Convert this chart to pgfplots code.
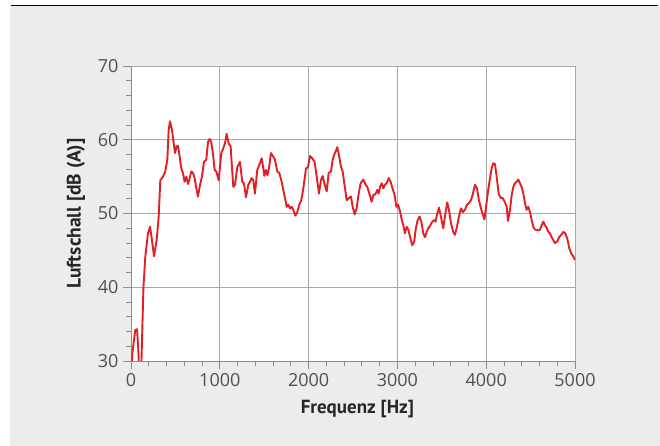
\documentclass[border=0pt]{standalone}
\usepackage{pgfplots}
\pgfplotsset{compat=1.18}
\usepackage{fontspec}
\setmainfont{Open Sans}
\newfontfamily\labelfont{PT Sans}
\definecolor{bg}{HTML}{ECECEC}
\definecolor{gridc}{HTML}{A8A8A8}
\definecolor{axc}{HTML}{8C8C8C}
\definecolor{tickc}{HTML}{505050}
\definecolor{curve}{HTML}{E31E24}
\begin{document}
\begin{tikzpicture}[x=1pt,y=1pt]
\fill[white] (0,0) rectangle (660,446);
\fill[bg] (10,0) rectangle (660,439.5);
\draw[black,line width=1.5pt] (11,440.5) -- (658,440.5);
\begin{axis}[
  at={(131pt,85pt)}, anchor=south west,
  scale only axis, width=444pt, height=295pt,
  xmin=0, xmax=5000, ymin=30, ymax=70,
  xtick={0,1000,...,5000}, ytick={30,40,...,70},
  minor x tick num=4, minor y tick num=4,
  scaled x ticks=false,
  /pgf/number format/1000 sep={},
  /pgf/number format/assume math mode=true,
  tick align=outside,
  major tick length=8pt, minor tick length=5pt,
  tick style={axc, line width=0.8pt},
  axis line style={axc, line width=0.8pt},
  grid=major,
  major grid style={gridc, line width=0.9pt},
  axis x line*=bottom, axis y line*=left,
  axis background/.style={fill=white},
  ticklabel style={font=\fontsize{18}{20}\selectfont, text=tickc},
  xticklabel style={yshift=-1pt},
  yticklabel style={xshift=-1pt},
  xlabel={Frequenz [Hz]},
  ylabel={Luftschall [dB (A)]},
  every axis x label/.style={at={(axis description cs:0.51,-0.163)}, anchor=center, font=\labelfont\bfseries\fontsize{19}{21}\selectfont, text=black!85},
  every axis y label/.style={at={(axis description cs:-0.124,0.5)}, rotate=90, anchor=center, font=\labelfont\bfseries\fontsize{19.5}{21}\selectfont, text=black!85},
]
\draw[gridc, line width=0.9pt] (axis cs:0,70) -- (axis cs:5000,70) -- (axis cs:5000,30);
\addplot[curve, line width=1.9pt, line join=round, mark=none] coordinates {
(0,27) (15,31) (48,34.2) (68,34.3) (80,32) (100,27) (118,30) (140,40) (161,44.1)
(191,47.3) (214,48.2) (236,46.4) (259,44.2) (289,46.4) (312,49.6) (330,54.5) (360,55.0)
(386,55.7) (409,57.3) (424,61.3) (439,62.5) (462,61.3) (476,60.0) (495,58.2) (514,59.1)
(529,59.2) (548,57.7) (567,56.1) (585,55.5) (604,54.3) (623,55.0) (642,54.0) (661,54.8)
(679,55.7) (698,55.5) (717,54.8) (736,53.4) (754,52.3) (773,53.6) (799,55.0) (822,57.0)
(848,57.3) (867,59.7) (886,60.1) (904,59.7) (927,57.7) (942,55.9) (961,55.7) (988,54.5)
(1017,58.2) (1032,58.6) (1058,59.5) (1077,60.8) (1100,59.5) (1122,59.1) (1137,56.3)
(1152,53.6) (1171,53.9) (1197,56.3) (1227,57.0) (1253,54.3) (1272,54.1) (1295,52.2)
(1321,53.9) (1340,54.3) (1359,54.8) (1377,54.5) (1396,52.7) (1422,55.9) (1445,56.6)
(1472,57.5) (1490,56.1) (1501,55.1) (1520,55.9) (1535,55.2) (1554,56.1) (1576,58.2)
(1602,57.7) (1621,57.3) (1647,55.7) (1670,55.5) (1697,54.3) (1715,53.2) (1734,52.1)
(1753,50.9) (1771,51.2) (1790,50.7) (1809,50.9) (1828,50.5) (1850,49.7) (1873,50.2)
(1895,51.2) (1918,51.8) (1940,53.4) (1971,56.1) (1993,56.3) (2016,57.8) (2040,57.5)
(2068,57.0) (2091,55.0) (2117,52.7) (2139,54.5) (2159,55.1) (2177,54.1) (2204,53.0)
(2226,55.5) (2252,55.7) (2271,57.3) (2286,57.9) (2308,58.5) (2323,59.0) (2345,57.7)
(2365,56.3) (2384,55.7) (2402,54.1) (2429,51.8) (2455,52.1) (2477,52.3) (2496,50.9)
(2519,49.9) (2541,50.7) (2564,52.7) (2586,54.1) (2616,54.6) (2639,54.0) (2661,53.6)
(2684,52.7) (2710,51.6) (2729,52.5) (2751,52.6) (2774,53.2) (2789,52.7) (2804,53.6)
(2823,54.1) (2841,53.4) (2860,53.9) (2879,54.1) (2902,54.8) (2924,54.3) (2946,53.4)
(2969,52.5) (2988,50.9) (3008,51.2) (3029,50.3) (3048,49.2) (3066,48.4) (3085,47.3)
(3104,48.2) (3123,47.8) (3141,46.9) (3167,45.7) (3190,46.2) (3205,47.8) (3228,49.1)
(3250,49.6) (3273,48.7) (3291,47.3) (3310,46.8) (3329,47.5) (3348,48.0) (3370,48.4)
(3393,48.9) (3415,49.1) (3430,48.9) (3445,49.8) (3468,50.8) (3490,49.6) (3516,48.0)
(3535,49.6) (3561,51.5) (3581,50.5) (3603,48.7) (3629,47.5) (3648,47.1) (3671,48.2)
(3693,49.6) (3716,50.7) (3738,50.2) (3761,50.5) (3783,51.2) (3806,51.4) (3828,51.8)
(3851,52.7) (3873,53.9) (3896,53.4) (3918,51.8) (3941,50.7) (3963,49.8) (3980,49.2)
(3994,50.5) (4017,52.7) (4039,54.5) (4062,56.2) (4080,56.8) (4099,56.7) (4118,55.0)
(4140,52.7) (4163,52.1) (4185,52.1) (4208,51.6) (4231,50.9) (4245,49.0) (4268,50.5)
(4287,52.5) (4305,53.6) (4324,54.1) (4343,54.3) (4362,54.6) (4380,54.1) (4399,53.6)
(4418,52.7) (4437,51.4) (4455,50.5) (4474,50.9) (4493,50.2) (4512,49.1) (4530,48.2)
(4549,47.8) (4568,47.8) (4587,47.7) (4605,47.8) (4624,48.4) (4643,48.9) (4662,48.4)
(4680,48.1) (4699,47.5) (4718,47.3) (4737,46.8) (4755,46.4) (4774,46.0) (4800,46.2)
(4823,46.8) (4845,47.1) (4868,47.5) (4890,47.3) (4913,46.6) (4935,45.3) (4958,44.6)
(4980,44.2) (5000,43.7)
};
\end{axis}
\end{tikzpicture}
\end{document}
